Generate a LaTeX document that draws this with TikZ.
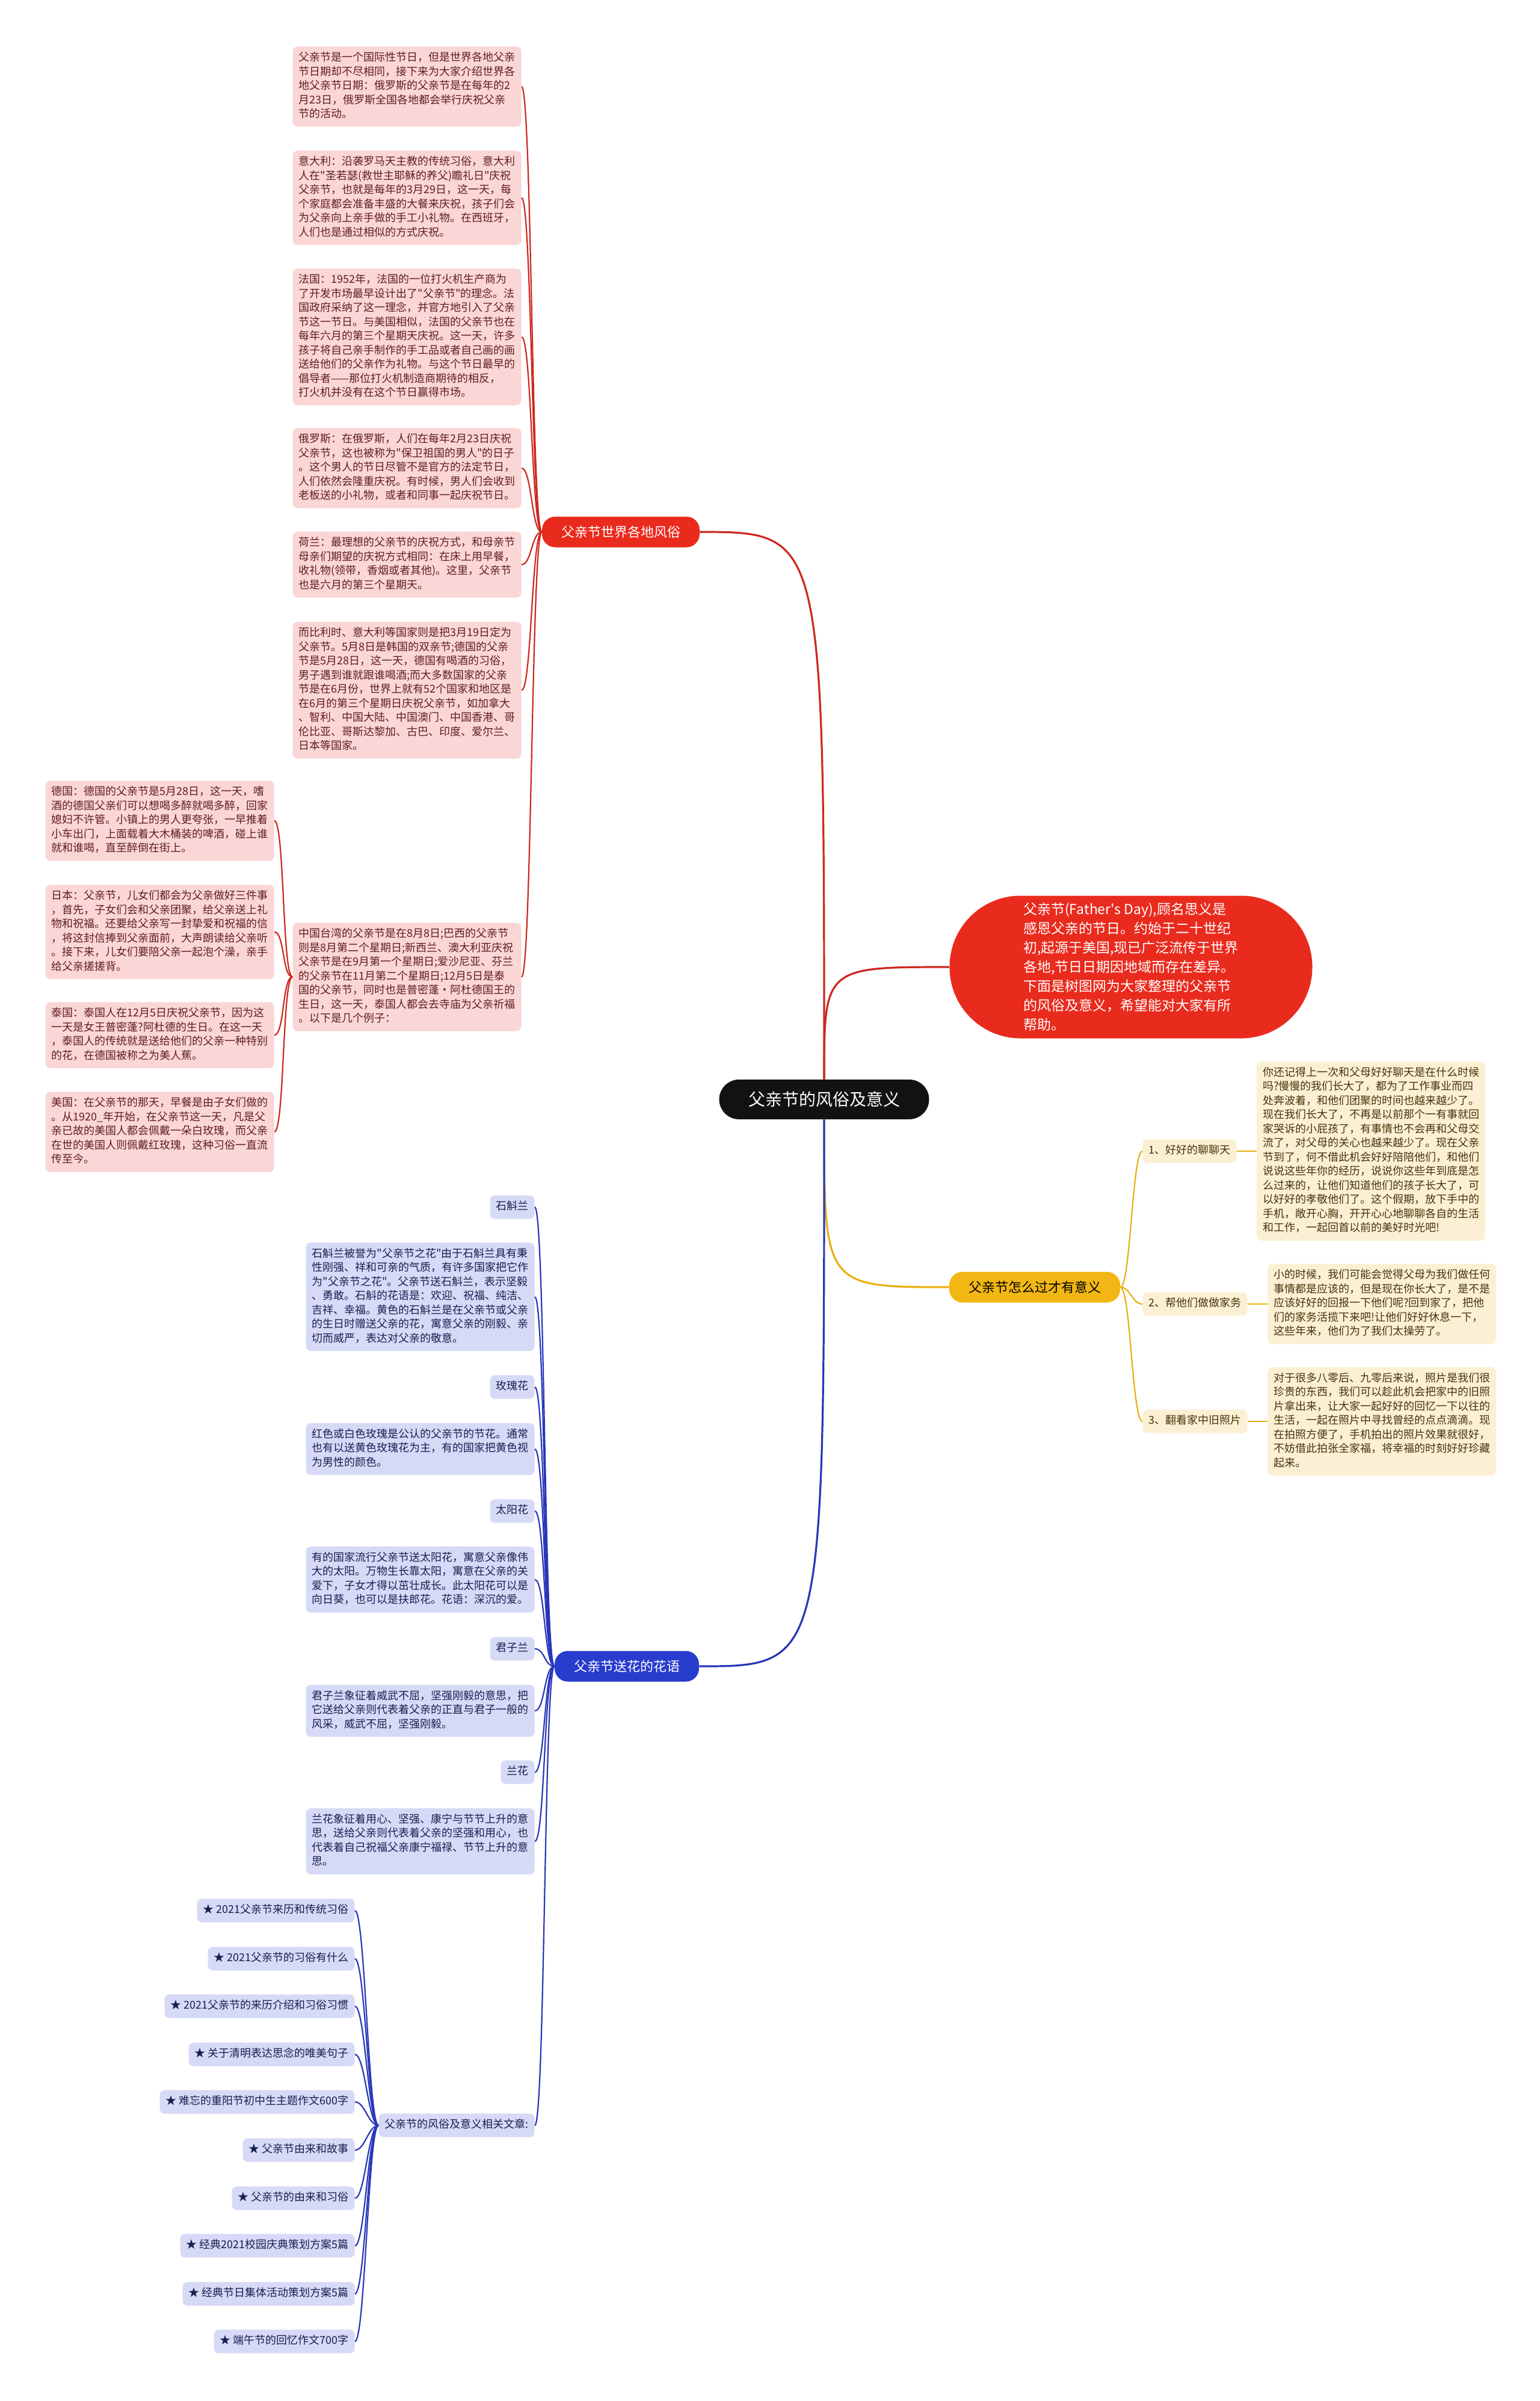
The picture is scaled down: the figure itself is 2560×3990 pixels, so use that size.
\documentclass[tikz,border=0pt]{standalone}
\usepackage{fontspec}
\setmainfont{Noto Sans CJK SC}[Ligatures=TeXOff]
\usetikzlibrary{positioning}
\definecolor{fred}{RGB}{233,43,30}
\definecolor{fredln}{RGB}{205,40,30}
\definecolor{fredbg}{RGB}{251,214,214}
\definecolor{fredtx}{RGB}{95,30,30}
\definecolor{fyel}{RGB}{242,183,20}
\definecolor{fyelln}{RGB}{232,176,20}
\definecolor{fyelbg}{RGB}{252,240,212}
\definecolor{fyeltx}{RGB}{70,50,10}
\definecolor{fblue}{RGB}{40,60,205}
\definecolor{fblueln}{RGB}{40,55,185}
\definecolor{fbluebg}{RGB}{214,218,246}
\definecolor{fbluetx}{RGB}{25,30,80}
\definecolor{froot}{RGB}{18,18,18}

\begin{document}
\begin{tikzpicture}[
  x=0.5pt, y=-0.5pt,
  leaf/.style={rounded corners=4pt, align=left, inner xsep=5pt, inner ysep=3.9pt,
               font=\fontsize{9pt}{11.75pt}\selectfont,
               execute at begin node=\strut, execute at end node=\strut},
  redleaf/.style={leaf, fill=fredbg, text=fredtx, text width=180pt},
  yelleaf/.style={leaf, fill=fyelbg, text=fyeltx},
  blueleaf/.style={leaf, fill=fbluebg, text=fbluetx},
  branchbox/.style={rounded corners=11pt, inner xsep=16pt, minimum height=25.5pt,
                    font=\fontsize{11pt}{13pt}\selectfont},
  lnk/.style={out=#1, in=#1+180, distance=8.5pt},
  rootln/.style={line width=1.6pt},
  leafln/.style={line width=1.1pt}
]
\fill[white] (0,0) rectangle (2560,3990);
\useasboundingbox (0,0) rectangle (2560,3990);

% centre and first level
\node[fill=froot, text=white, rounded corners=16.5pt, minimum width=174.5pt,
      minimum height=33pt, font=\fontsize{14pt}{16pt}\selectfont] (root) at (1370,1827)
  {父亲节的风俗及意义};
\node[fill=fred, text=white, rounded corners=59pt, minimum width=301.5pt,
      minimum height=118.5pt, align=left, font=\fontsize{11.5pt}{16pt}\selectfont]
  (intro) at (1880,1607)
  {父亲节(Father's Day),顾名思义是\\感恩父亲的节日。约始于二十世纪\\
   初,起源于美国,现已广泛流传于世界\\各地,节日日期因地域而存在差异。\\
   下面是树图网为大家整理的父亲节\\的风俗及意义，希望能对大家有所\\帮助。};
\node[branchbox, fill=fred, text=white] (world) at (1032,884) {父亲节世界各地风俗};
\node[branchbox, fill=fyel, text=black] (howto) at (1720,2139) {父亲节怎么过才有意义};
\node[branchbox, fill=fblue, text=white] (flower) at (1042,2769) {父亲节送花的花语};

\draw[rootln, fredln] (root.north) .. controls (root.north |- world.east) .. (world.east);
\draw[rootln, fredln] (root.north) .. controls (root.north |- intro.west) .. (intro.west);
\draw[rootln, fyelln] (root.south) .. controls (root.south |- howto.west) .. (howto.west);
\draw[rootln, fblueln] (root.south) .. controls (root.south |- flower.east) .. (flower.east);

% world customs
\node[redleaf, anchor=north east] (w1) at (867,77)
  {父亲节是一个国际性节日，但是世界各地父亲\\节日期却不尽相同，接下来为大家介绍世界各\\
   地父亲节日期：俄罗斯的父亲节是在每年的2\\月23日，俄罗斯全国各地都会举行庆祝父亲\\节的活动。};
\node[redleaf, anchor=north east] (w2) at (867,250)
  {意大利：沿袭罗马天主教的传统习俗，意大利\\人在"圣若瑟(救世主耶稣的养父)瞻礼日"庆祝\\
   父亲节，也就是每年的3月29日，这一天，每\\个家庭都会准备丰盛的大餐来庆祝，孩子们会\\
   为父亲向上亲手做的手工小礼物。在西班牙，\\人们也是通过相似的方式庆祝。};
\node[redleaf, anchor=north east] (w3) at (867,446)
  {法国：1952年，法国的一位打火机生产商为\\了开发市场最早设计出了"父亲节"的理念。法\\
   国政府采纳了这一理念，并官方地引入了父亲\\节这一节日。与美国相似，法国的父亲节也在\\
   每年六月的第三个星期天庆祝。这一天，许多\\孩子将自己亲手制作的手工品或者自己画的画\\
   送给他们的父亲作为礼物。与这个节日最早的\\倡导者——那位打火机制造商期待的相反，\\
   打火机并没有在这个节日赢得市场。};
\node[redleaf, anchor=north east] (w4) at (867,711)
  {俄罗斯：在俄罗斯，人们在每年2月23日庆祝\\父亲节，这也被称为"保卫祖国的男人"的日子\\
   。这个男人的节日尽管不是官方的法定节日，\\人们依然会隆重庆祝。有时候，男人们会收到\\
   老板送的小礼物，或者和同事一起庆祝节日。};
\node[redleaf, anchor=north east] (w5) at (867,883)
  {荷兰：最理想的父亲节的庆祝方式，和母亲节\\母亲们期望的庆祝方式相同：在床上用早餐，\\
   收礼物(领带，香烟或者其他)。这里，父亲节\\也是六月的第三个星期天。};
\node[redleaf, anchor=north east] (w6) at (867,1033)
  {而比利时、意大利等国家则是把3月19日定为\\父亲节。5月8日是韩国的双亲节;德国的父亲\\
   节是5月28日，这一天，德国有喝酒的习俗，\\男子遇到谁就跟谁喝酒;而大多数国家的父亲\\
   节是在6月份，世界上就有52个国家和地区是\\在6月的第三个星期日庆祝父亲节，如加拿大\\
   、智利、中国大陆、中国澳门、中国香港、哥\\伦比亚、哥斯达黎加、古巴、印度、爱尔兰、\\
   日本等国家。};
\node[redleaf, anchor=north east] (w7) at (867,1533)
  {中国台湾的父亲节是在8月8日;巴西的父亲节\\则是8月第二个星期日;新西兰、澳大利亚庆祝\\
   父亲节是在9月第一个星期日;爱沙尼亚、芬兰\\的父亲节在11月第二个星期日;12月5日是泰\\
   国的父亲节，同时也是普密蓬·阿杜德国王的\\生日，这一天，泰国人都会去寺庙为父亲祈福\\
   。以下是几个例子：};

\node[redleaf, anchor=north east] (de) at (456,1297)
  {德国：德国的父亲节是5月28日，这一天，嗜\\酒的德国父亲们可以想喝多醉就喝多醉，回家\\
   媳妇不许管。小镇上的男人更夸张，一早推着\\小车出门，上面载着大木桶装的啤酒，碰上谁\\
   就和谁喝，直至醉倒在街上。};
\node[redleaf, anchor=north east] (jp) at (456,1470)
  {日本：父亲节，儿女们都会为父亲做好三件事\\，首先，子女们会和父亲团聚，给父亲送上礼\\
   物和祝福。还要给父亲写一封挚爱和祝福的信\\，将这封信捧到父亲面前，大声朗读给父亲听\\
   。接下来，儿女们要陪父亲一起泡个澡，亲手\\给父亲搓搓背。};
\node[redleaf, anchor=north east] (th) at (456,1665)
  {泰国：泰国人在12月5日庆祝父亲节，因为这\\一天是女王普密蓬?阿杜德的生日。在这一天\\
   ，泰国人的传统就是送给他们的父亲一种特别\\的花，在德国被称之为美人蕉。};
\node[redleaf, anchor=north east] (us) at (456,1814)
  {美国：在父亲节的那天，早餐是由子女们做的\\。从1920\_年开始，在父亲节这一天，凡是父\\
   亲已故的美国人都会佩戴一朵白玫瑰，而父亲\\在世的美国人则佩戴红玫瑰，这种习俗一直流\\
   传至今。};

\draw[leafln, fredln] (world.west) to[lnk=180] (w1.east);
\draw[leafln, fredln] (world.west) to[lnk=180] (w2.east);
\draw[leafln, fredln] (world.west) to[lnk=180] (w3.east);
\draw[leafln, fredln] (world.west) to[lnk=180] (w4.east);
\draw[leafln, fredln] (world.west) to[lnk=180] (w5.east);
\draw[leafln, fredln] (world.west) to[lnk=180] (w6.east);
\draw[leafln, fredln] (world.west) to[lnk=180] (w7.east);
\draw[leafln, fredln] (w7.west) to[lnk=180] (de.east);
\draw[leafln, fredln] (w7.west) to[lnk=180] (jp.east);
\draw[leafln, fredln] (w7.west) to[lnk=180] (th.east);
\draw[leafln, fredln] (w7.west) to[lnk=180] (us.east);

% how to spend the day
\node[yelleaf, anchor=west] (talk) at (1899,1913) {1、好好的聊聊天};
\node[yelleaf, anchor=west] (chores) at (1899,2167) {2、帮他们做做家务};
\node[yelleaf, anchor=west] (photo) at (1899,2362) {3、翻看家中旧照片};
\node[yelleaf, text width=180pt, right=16.5pt of talk] (talktx)
  {你还记得上一次和父母好好聊天是在什么时候\\吗?慢慢的我们长大了，都为了工作事业而四\\
   处奔波着，和他们团聚的时间也越来越少了。\\现在我们长大了，不再是以前那个一有事就回\\
   家哭诉的小屁孩了，有事情也不会再和父母交\\流了，对父母的关心也越来越少了。现在父亲\\
   节到了，何不借此机会好好陪陪他们，和他们\\说说这些年你的经历，说说你这些年到底是怎\\
   么过来的，让他们知道他们的孩子长大了，可\\以好好的孝敬他们了。这个假期，放下手中的\\
   手机，敞开心胸，开开心心地聊聊各自的生活\\和工作，一起回首以前的美好时光吧!};
\node[yelleaf, text width=180pt, right=16.5pt of chores] (chorestx)
  {小的时候，我们可能会觉得父母为我们做任何\\事情都是应该的，但是现在你长大了，是不是\\
   应该好好的回报一下他们呢?回到家了，把他\\们的家务活揽下来吧!让他们好好休息一下，\\
   这些年来，他们为了我们太操劳了。};
\node[yelleaf, text width=180pt, right=16.5pt of photo] (phototx)
  {对于很多八零后、九零后来说，照片是我们很\\珍贵的东西，我们可以趁此机会把家中的旧照\\
   片拿出来，让大家一起好好的回忆一下以往的\\生活，一起在照片中寻找曾经的点点滴滴。现\\
   在拍照方便了，手机拍出的照片效果就很好，\\不妨借此拍张全家福，将幸福的时刻好好珍藏\\
   起来。};

\draw[leafln, fyelln] (howto.east) to[lnk=0] (talk.west);
\draw[leafln, fyelln] (howto.east) to[lnk=0] (chores.west);
\draw[leafln, fyelln] (howto.east) to[lnk=0] (photo.west);
\draw[leafln, fyelln] (talk) -- (talktx);
\draw[leafln, fyelln] (chores) -- (chorestx);
\draw[leafln, fyelln] (photo) -- (phototx);

% flowers
\node[blueleaf, anchor=east] (orchid) at (889,2006) {石斛兰};
\node[blueleaf, text width=180pt, anchor=east] (orchidtx) at (889,2155)
  {石斛兰被誉为"父亲节之花"由于石斛兰具有秉\\性刚强、祥和可亲的气质，有许多国家把它作\\
   为"父亲节之花"。父亲节送石斛兰，表示坚毅\\、勇敢。石斛的花语是：欢迎、祝福、纯洁、\\
   吉祥、幸福。黄色的石斛兰是在父亲节或父亲\\的生日时赠送父亲的花，寓意父亲的刚毅、亲\\
   切而威严，表达对父亲的敬意。};
\node[blueleaf, anchor=east] (rose) at (889,2305) {玫瑰花};
\node[blueleaf, text width=180pt, anchor=east] (rosetx) at (889,2408)
  {红色或白色玫瑰是公认的父亲节的节花。通常\\也有以送黄色玫瑰花为主，有的国家把黄色视\\
   为男性的颜色。};
\node[blueleaf, anchor=east] (sun) at (889,2511) {太阳花};
\node[blueleaf, text width=180pt, anchor=east] (suntx) at (889,2625)
  {有的国家流行父亲节送太阳花，寓意父亲像伟\\大的太阳。万物生长靠太阳，寓意在父亲的关\\
   爱下，子女才得以茁壮成长。此太阳花可以是\\向日葵，也可以是扶郎花。花语：深沉的爱。};
\node[blueleaf, anchor=east] (clivia) at (889,2740) {君子兰};
\node[blueleaf, text width=180pt, anchor=east] (cliviatx) at (889,2843)
  {君子兰象征着威武不屈，坚强刚毅的意思，把\\它送给父亲则代表着父亲的正直与君子一般的\\
   风采，威武不屈，坚强刚毅。};
\node[blueleaf, anchor=east] (lan) at (889,2945) {兰花};
\node[blueleaf, text width=180pt, anchor=east] (lantx) at (889,3060)
  {兰花象征着用心、坚强、康宁与节节上升的意\\思，送给父亲则代表着父亲的坚强和用心，也\\
   代表着自己祝福父亲康宁福禄、节节上升的意\\思。};
\node[blueleaf, anchor=east] (related) at (889,3532) {父亲节的风俗及意义相关文章:};

\draw[leafln, fblueln] (flower.west) to[lnk=180] (orchid.east);
\draw[leafln, fblueln] (flower.west) to[lnk=180] (orchidtx.east);
\draw[leafln, fblueln] (flower.west) to[lnk=180] (rose.east);
\draw[leafln, fblueln] (flower.west) to[lnk=180] (rosetx.east);
\draw[leafln, fblueln] (flower.west) to[lnk=180] (sun.east);
\draw[leafln, fblueln] (flower.west) to[lnk=180] (suntx.east);
\draw[leafln, fblueln] (flower.west) to[lnk=180] (clivia.east);
\draw[leafln, fblueln] (flower.west) to[lnk=180] (cliviatx.east);
\draw[leafln, fblueln] (flower.west) to[lnk=180] (lan.east);
\draw[leafln, fblueln] (flower.west) to[lnk=180] (lantx.east);
\draw[leafln, fblueln] (flower.west) to[lnk=180] (related.east);

% related articles
\node[blueleaf, anchor=east] (a1) at (590,3175) {★ 2021父亲节来历和传统习俗};
\node[blueleaf, anchor=east] (a2) at (590,3255) {★ 2021父亲节的习俗有什么};
\node[blueleaf, anchor=east] (a3) at (590,3334) {★ 2021父亲节的来历介绍和习俗习惯};
\node[blueleaf, anchor=east] (a4) at (590,3414) {★ 关于清明表达思念的唯美句子};
\node[blueleaf, anchor=east] (a5) at (590,3493) {★ 难忘的重阳节初中生主题作文600字};
\node[blueleaf, anchor=east] (a6) at (590,3573) {★ 父亲节由来和故事};
\node[blueleaf, anchor=east] (a7) at (590,3653) {★ 父亲节的由来和习俗};
\node[blueleaf, anchor=east] (a8) at (590,3732) {★ 经典2021校园庆典策划方案5篇};
\node[blueleaf, anchor=east] (a9) at (590,3812) {★ 经典节日集体活动策划方案5篇};
\node[blueleaf, anchor=east] (a10) at (590,3891) {★ 端午节的回忆作文700字};

\draw[leafln, fblueln] (related.west) to[lnk=180] (a1.east);
\draw[leafln, fblueln] (related.west) to[lnk=180] (a2.east);
\draw[leafln, fblueln] (related.west) to[lnk=180] (a3.east);
\draw[leafln, fblueln] (related.west) to[lnk=180] (a4.east);
\draw[leafln, fblueln] (related.west) to[lnk=180] (a5.east);
\draw[leafln, fblueln] (related.west) to[lnk=180] (a6.east);
\draw[leafln, fblueln] (related.west) to[lnk=180] (a7.east);
\draw[leafln, fblueln] (related.west) to[lnk=180] (a8.east);
\draw[leafln, fblueln] (related.west) to[lnk=180] (a9.east);
\draw[leafln, fblueln] (related.west) to[lnk=180] (a10.east);
\end{tikzpicture}
\end{document}
